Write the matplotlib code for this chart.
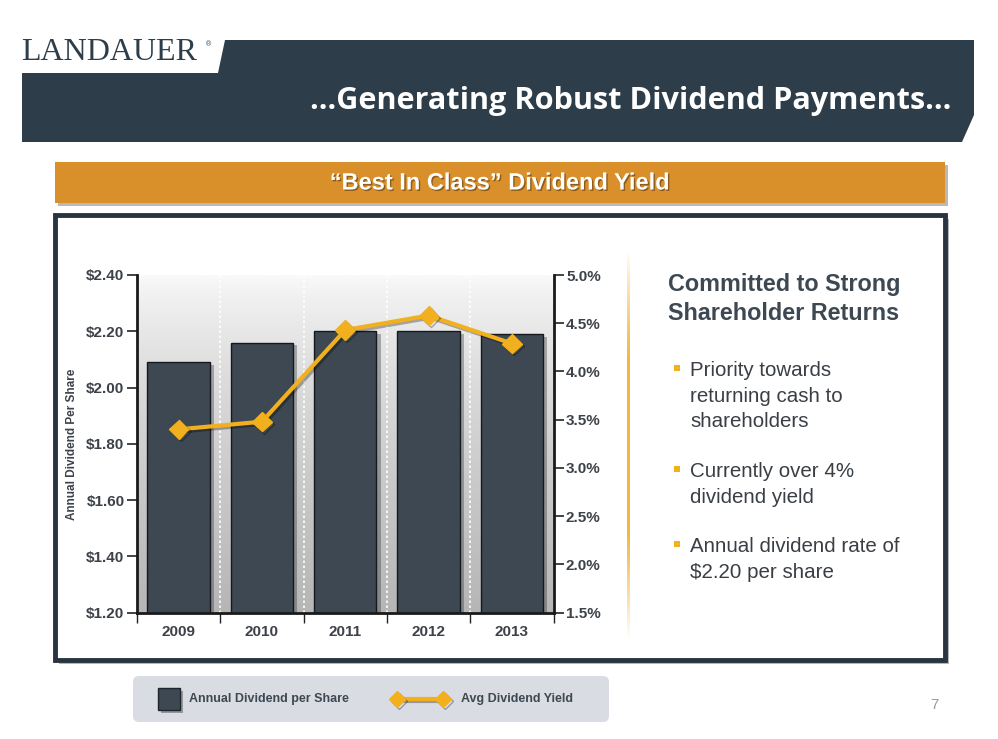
import numpy as np
import matplotlib
matplotlib.use("Agg")
import matplotlib.pyplot as plt
import matplotlib.patheffects as pe
from matplotlib.patches import Rectangle, Polygon, FancyBboxPatch
from matplotlib.colors import LinearSegmentedColormap
from matplotlib.ticker import FixedLocator, NullFormatter

# --- data ---
years = ["2009", "2010", "2011", "2012", "2013"]
dividend = [2.09, 2.16, 2.20, 2.20, 2.19]
avg_yield = [3.40, 3.48, 4.43, 4.58, 4.29]

left_ticks = [1.20, 1.40, 1.60, 1.80, 2.00, 2.20, 2.40]
right_ticks = [1.5, 2.0, 2.5, 3.0, 3.5, 4.0, 4.5, 5.0]

bullets = [
    ["Priority towards", "returning cash to", "shareholders"],
    ["Currently over 4%", "dividend yield"],
    ["Annual dividend rate of", "$2.20 per share"],
]

W, H = 998, 739
SLATE = "#2d3e4a"
BAR = "#3d4852"
GOLD = "#f2b01e"
TXT = "#3a3f45"

plt.rcParams["font.family"] = ["Liberation Sans", "DejaVu Sans"]

fig = plt.figure(figsize=(W / 100, H / 100), dpi=100)
fig.patch.set_facecolor("white")

bg = fig.add_axes([0, 0, 1, 1])
bg.set_xlim(0, W)
bg.set_ylim(H, 0)
bg.axis("off")

# header band
bg.add_patch(Polygon([(225, 40), (974, 40), (974, 115), (962, 142), (22, 142),
                      (22, 73), (218, 73)], closed=True, color=SLATE, lw=0))
bg.text(21, 53, "LANDAUER", family=["Liberation Serif", "DejaVu Serif"],
        fontsize=23, color=SLATE, va="center", ha="left")
bg.text(206, 45, "®", fontsize=5, color=SLATE, va="center")
bg.text(951, 101, "…Generating Robust Dividend Payments…", family=["Open Sans", "DejaVu Sans"],
        fontweight="bold", fontsize=22.1, color="white", ha="right", va="center")

# orange banner
bg.add_patch(Rectangle((58, 165), 890, 41, color="#b9b9b9", lw=0))
bg.add_patch(Rectangle((55, 162), 890, 41, color="#d98f2a", lw=0))
bg.text(500, 183, "\u201cBest In Class\u201d Dividend Yield",
        fontweight="bold", fontsize=17, color="white", ha="center", va="center",
        path_effects=[pe.withSimplePatchShadow(offset=(1, -1), shadow_rgbFace="#5a3a10", alpha=0.6)])

# main panel
bg.add_patch(Rectangle((59, 219), 890, 445, color="#b5b5b5", lw=0))
bg.add_patch(Rectangle((55, 215), 890, 445, facecolor="white", edgecolor="#2a3440", lw=3.5))

# gold divider line fading at the ends
t = np.linspace(0, 1, 200)
alpha = np.clip(np.sin(np.pi * t) * 1.3, 0, 1)
rgba = np.zeros((200, 1, 4))
rgba[:, 0, 0], rgba[:, 0, 1], rgba[:, 0, 2] = 0.95, 0.72, 0.25
rgba[:, 0, 3] = alpha
bg.imshow(rgba, extent=[627.5, 630.5, 640, 250], aspect="auto", zorder=2)
bg.set_xlim(0, W)
bg.set_ylim(H, 0)

# right panel text
bg.text(784, 284, "Committed to Strong", fontsize=16.8, fontweight="bold", color=BAR,
        ha="center", va="center")
bg.text(784, 313, "Shareholder Returns", fontsize=16.8, fontweight="bold", color=BAR,
        ha="center", va="center")
y = 371
for group in bullets:
    bg.add_patch(Rectangle((674, y - 6), 6, 6, color=GOLD, lw=0))
    for line in group:
        bg.text(690, y, line, fontsize=14.8, color=TXT, ha="left", va="center")
        y += 25.4
    y += 24.5

# legend box
bg.add_patch(FancyBboxPatch((136, 679), 470, 40, boxstyle="round,pad=3,rounding_size=6",
                            facecolor="#d9dce3", edgecolor="none"))
bg.add_patch(Rectangle((158, 688), 22, 22, facecolor=BAR, edgecolor="#1e252c", lw=1,
                       path_effects=[pe.withSimplePatchShadow(offset=(2, -2), alpha=0.35)]))
bg.text(189, 699, "Annual Dividend per Share", fontsize=9, fontweight="bold", color="#3d4852",
        ha="left", va="center")
bg.plot([397, 443], [699, 699], color=GOLD, lw=3, marker="D", markersize=8,
        path_effects=[pe.SimpleLineShadow(offset=(1.5, -1.5), alpha=0.3), pe.Normal()])
bg.text(461, 699, "Avg Dividend Yield", fontsize=9, fontweight="bold", color="#3d4852",
        ha="left", va="center")
bg.text(934, 705, "7", fontsize=11, color="#9a9a9a", ha="center", va="center")

# --- chart ---
x0, x1, y0, y1 = 137, 553.5, 275, 612.7
ax = fig.add_axes([x0 / W, 1 - y1 / H, (x1 - x0) / W, (y1 - y0) / H])
ax.set_facecolor("none")
pos = np.arange(len(years))

grad = np.linspace(0, 1, 256) ** 0.75
cmap = LinearSegmentedColormap.from_list("g", ["#fafafa", "#d6d6d6", "#b6b6b6"])
ax.imshow(grad[:, None], cmap=cmap, extent=[-0.5, 4.5, 1.2, 2.4], aspect="auto", zorder=0)

for b in [0.5, 1.5, 2.5, 3.5]:
    ax.axvline(b, color="white", lw=1.2, ls=(0, (1.5, 1.5)), zorder=1)

ax.bar(pos, dividend, width=0.75, bottom=0, color=BAR, edgecolor="#15191d", lw=1, zorder=2,
       path_effects=[pe.withSimplePatchShadow(offset=(3, -2), alpha=0.3)])
ax.set_xlim(-0.5, 4.5)
ax.set_ylim(1.2, 2.4)
ax.set_yticks(left_ticks)
ax.set_yticklabels([f"${v:.2f}" for v in left_ticks])

ax.xaxis.set_major_locator(FixedLocator(np.arange(-0.5, 5, 1)))
ax.xaxis.set_major_formatter(NullFormatter())
ax.xaxis.set_minor_locator(FixedLocator(pos))
ax.set_xticklabels(years, minor=True)
ax.tick_params(axis="x", which="major", length=7, width=1, color="#222222", direction="out")
ax.tick_params(axis="x", which="minor", length=0, pad=9, labelsize=11, labelcolor="#3d4249")
ax.tick_params(axis="y", length=7, width=1.2, color="#222222", labelsize=11,
               labelcolor="#3d4249", pad=2)
for lab in ax.get_xticklabels(minor=True) + ax.get_yticklabels():
    lab.set_fontweight("bold")

for s in ["top", "right"]:
    ax.spines[s].set_visible(False)
ax.spines["left"].set_linewidth(2)
ax.spines["bottom"].set_linewidth(2)
ax.spines["left"].set_color("#1a1a1a")
ax.spines["bottom"].set_color("#1a1a1a")
ax.set_ylabel("Annual Dividend Per Share", fontsize=8.5, fontweight="bold", color="#3d4249",
              labelpad=6)

ax2 = ax.twinx()
ax2.plot(pos, avg_yield, color=GOLD, lw=3, marker="D", markersize=10, zorder=5,
         path_effects=[pe.SimpleLineShadow(offset=(1.5, -1.5), alpha=0.3), pe.Normal()])
ax2.set_ylim(1.5, 5.0)
ax2.set_yticks(right_ticks)
ax2.set_yticklabels([f"{v:.1f}%" for v in right_ticks])
ax2.tick_params(axis="y", length=7, width=1.2, color="#222222", labelsize=11,
                labelcolor="#3d4249", pad=2)
for lab in ax2.get_yticklabels():
    lab.set_fontweight("bold")
for s in ["top", "left", "bottom"]:
    ax2.spines[s].set_visible(False)
ax2.spines["right"].set_linewidth(2)
ax2.spines["right"].set_color("#1a1a1a")

fig.savefig("out.png", dpi=100)
